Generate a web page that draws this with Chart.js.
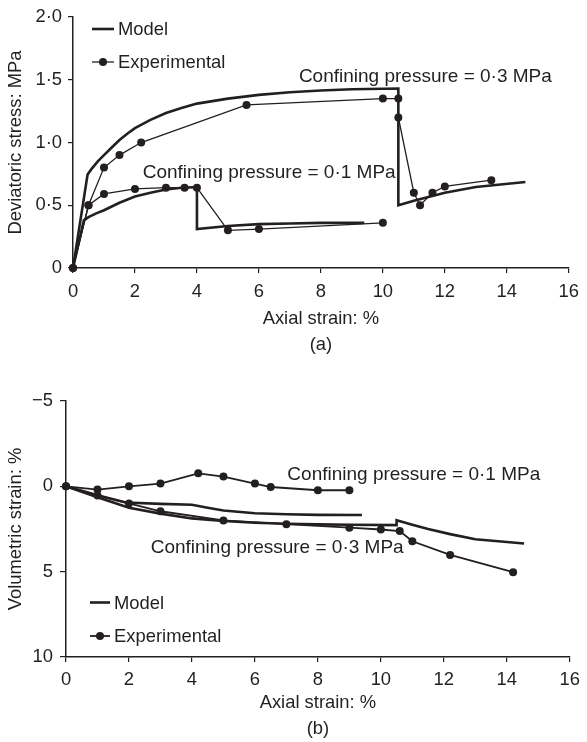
<!DOCTYPE html>
<html>
<head>
<meta charset="utf-8">
<script src="https://cdn.jsdelivr.net/npm/chart.js@4.4.1/dist/chart.umd.min.js"></script>
<style>
  html, body { margin: 0; padding: 0; background: #fff; }
  body { width: 587px; height: 742px; position: relative; overflow: hidden; }
  canvas { position: absolute; left: 0; }
  #c1 { top: 0; }
  #c2 { top: 372px; }
</style>
</head>
<body>
<canvas id="c1" width="587" height="360"></canvas>
<canvas id="c2" width="587" height="370"></canvas>
<script>
// ---------- DATA ----------
// (a) Deviatoric stress (MPa) vs axial strain (%)
const devModel03 = [[0,0],[0.47,0.745],[0.6,0.79],[0.8,0.85],[1,0.9],[1.25,0.96],[1.5,1.02],[1.75,1.07],[2,1.115],[2.5,1.18],[3,1.235],[3.5,1.275],[4,1.31],[5,1.35],[6,1.38],[7,1.4],[8,1.415],[9,1.425],[10.5,1.43],[10.5,0.5],[11,0.535],[12,0.6],[13,0.645],[14.6,0.685]];
const devExp03   = [[0,0],[0.5,0.5],[1,0.8],[1.5,0.9],[2.2,1.0],[5.6,1.3],[10,1.35],[10.5,1.35],[10.5,1.2],[11,0.6],[11.2,0.5],[11.6,0.6],[12,0.65],[13.5,0.7]];
const devModel01 = [[0,0],[0.35,0.38],[0.5,0.405],[0.75,0.435],[1,0.46],[1.5,0.52],[2,0.57],[2.5,0.6],[3,0.625],[3.5,0.64],[4,0.645],[4,0.31],[5,0.335],[6,0.35],[7,0.355],[8,0.36],[9.4,0.36]];
const devExp01   = [[0,0],[0.5,0.5],[1,0.59],[2,0.63],[3,0.64],[3.6,0.64],[4,0.64],[5,0.3],[6,0.31],[10,0.36]];
const devTickLabels = ['0','0·5','1·0','1·5','2·0'];

// (b) Volumetric strain (%) vs axial strain (%)
const volModel03 = [[0,0],[1,0.64],[2,1.26],[3,1.6],[4,1.88],[5,2.03],[6,2.13],[7,2.19],[8,2.23],[9,2.25],[10.5,2.27],[10.5,1.99],[11,2.25],[11.5,2.5],[12.2,2.8],[13,3.1],[14.55,3.35]];
const volExp03   = [[0,0],[1,0.53],[2,1.0],[3,1.46],[5,2.0],[7,2.22],[9,2.42],[10,2.53],[10.6,2.62],[11,3.22],[12.2,4.02],[14.2,5.03]];
const volModel01 = [[0,0],[1,0.52],[1.9,0.95],[3,1.03],[4,1.08],[4.5,1.25],[5,1.42],[6,1.58],[7,1.64],[8,1.67],[9.4,1.68]];
const volExp01   = [[0,0],[1,0.19],[2,0],[3,-0.16],[4.2,-0.76],[5,-0.57],[6,-0.16],[6.5,0.04],[8,0.23],[9,0.23]];
const volTickLabels = ['−5','0','5','10'];

const xTickStep = 2;
const legendLabels = ['Model','Experimental'];
// annotation anchors in data coordinates (left edge, text baseline)
const annotA = [
  {text:'Confining pressure = 0·3 MPa', x:7.29, y:1.484},
  {text:'Confining pressure = 0·1 MPa', x:2.25, y:0.72}
];
const annotB = [
  {text:'Confining pressure = 0·1 MPa', x:7.03, y:-0.39},
  {text:'Confining pressure = 0·3 MPa', x:2.69, y:3.92}
];

// ---------- STYLE ----------
const FONT = '"Liberation Sans", Arial, Helvetica, sans-serif';
const INK = '#231f20';
const FS = 18.4;
Chart.defaults.font.family = FONT;
Chart.defaults.font.size = FS;
Chart.defaults.color = INK;

const toXY = arr => arr.map(p => ({x:p[0], y:p[1]}));

function modelDs(arr, w) {
  return {data: toXY(arr), borderColor: INK, borderWidth: w, pointRadius: 0, tension: 0, clip: false, fill: false};
}
function expDs(arr, w, r) {
  return {data: toXY(arr), borderColor: INK, borderWidth: w, pointRadius: r, pointBackgroundColor: INK,
          pointBorderWidth: 0, pointHoverRadius: r, tension: 0, clip: false, fill: false};
}

// legend + annotation plugin
const overlay = {
  id: 'overlay',
  afterDatasetsDraw(chart, args, opts) {
    const ctx = chart.ctx;
    ctx.save();
    ctx.font = FS + 'px ' + FONT;
    ctx.fillStyle = INK;
    ctx.strokeStyle = INK;
    const L = opts.legend;
    ctx.lineWidth = L.modelW;
    ctx.beginPath(); ctx.moveTo(L.x0, L.y1); ctx.lineTo(L.x1, L.y1); ctx.stroke();
    ctx.lineWidth = L.expW;
    ctx.beginPath(); ctx.moveTo(L.x0, L.y2); ctx.lineTo(L.x1, L.y2); ctx.stroke();
    ctx.beginPath(); ctx.arc((L.x0 + L.x1) / 2, L.y2, L.r, 0, Math.PI * 2); ctx.fill();
    ctx.textBaseline = 'middle';
    ctx.textAlign = 'left';
    ctx.fillText(legendLabels[0], L.tx, L.y1 + 1);
    ctx.fillText(legendLabels[1], L.tx, L.y2 + 1);
    const xs = chart.scales.x, ys = chart.scales.y;
    ctx.font = '19px ' + FONT;
    ctx.textBaseline = 'alphabetic';
    opts.annot.forEach(a => {
      ctx.fillText(a.text, xs.getPixelForValue(a.x), ys.getPixelForValue(a.y));
    });
    ctx.restore();
  }
};

function makeChart(id, cfg) {
  return new Chart(document.getElementById(id), {
    type: 'line',
    data: {datasets: cfg.datasets},
    plugins: [overlay],
    options: {
      responsive: false,
      animation: false,
      events: [],
      layout: {padding: cfg.padding},
      plugins: {
        legend: {display: false},
        tooltip: {enabled: false},
        overlay: {legend: cfg.legend, annot: cfg.annot}
      },
      scales: {
        x: {
          type: 'linear', min: 0, max: 16,
          afterFit: s => { s.height = cfg.xH; },
          afterBuildTicks: s => { s.ticks = []; for (let v = 0; v <= 16; v += xTickStep) s.ticks.push({value: v}); },
          ticks: {padding: cfg.xPad, maxRotation: 0, autoSkip: false, font: {size: FS}, color: INK,
                  callback: v => String(v)},
          grid: {drawOnChartArea: false, drawTicks: true, tickLength: 5, color: INK, lineWidth: 1.2},
          border: {display: true, color: INK, width: 1.5},
          title: {display: true, text: cfg.xTitle, font: {size: FS, lineHeight: '26px'}, color: INK, padding: {top: 0, bottom: 0}}
        },
        y: {
          type: 'linear', min: cfg.yMin, max: cfg.yMax, reverse: cfg.reverse,
          afterFit: s => { s.width = cfg.yW; },
          afterBuildTicks: s => { s.ticks = cfg.yVals.map(v => ({value: v})); },
          ticks: {padding: cfg.yPad, autoSkip: false, font: {size: FS}, color: INK,
                  callback: (v, i) => cfg.yLabels[i]},
          grid: {drawOnChartArea: false, drawTicks: true, tickLength: cfg.yTick, color: INK, lineWidth: 1.2},
          border: {display: true, color: INK, width: 1.5},
          title: {display: true, text: cfg.yTitle, font: {size: FS}, color: INK, padding: {top: 5, bottom: 0}}
        }
      }
    }
  });
}

// (a)
makeChart('c1', {
  datasets: [modelDs(devModel03, 2.6), expDs(devExp03, 1.3, 4), modelDs(devModel01, 2.6), expDs(devExp01, 1.3, 4)],
  padding: {top: 14, right: 16, left: 0, bottom: 2},
  xH: 90, yW: 73, xPad: 8, yPad: 6, yTick: 5,
  yMin: 0, yMax: 2, reverse: false,
  yVals: [0, 0.5, 1, 1.5, 2], yLabels: devTickLabels,
  xTitle: ['Axial strain: %', '(a)'],
  yTitle: 'Deviatoric stress: MPa',
  legend: {x0: 92, x1: 114, tx: 118, y1: 29, y2: 62, r: 4, modelW: 2.6, expW: 1.3},
  annot: annotA
});

// (b)
makeChart('c2', {
  datasets: [modelDs(volModel03, 2.6), expDs(volExp03, 1.8, 4), modelDs(volModel01, 2.6), expDs(volExp01, 1.8, 4)],
  padding: {top: 29, right: 11, left: 0, bottom: 0},
  xH: 85, yW: 66, xPad: 7, yPad: 7, yTick: 6,
  yMin: -5, yMax: 10, reverse: true,
  yVals: [-5, 0, 5, 10], yLabels: volTickLabels,
  xTitle: ['Axial strain: %', '(b)'],
  yTitle: 'Volumetric strain: %',
  legend: {x0: 90, x1: 110, tx: 114, y1: 602.5 - 372, y2: 636 - 372, r: 4, modelW: 2.6, expW: 1.8},
  annot: annotB
});
</script>
</body>
</html>
